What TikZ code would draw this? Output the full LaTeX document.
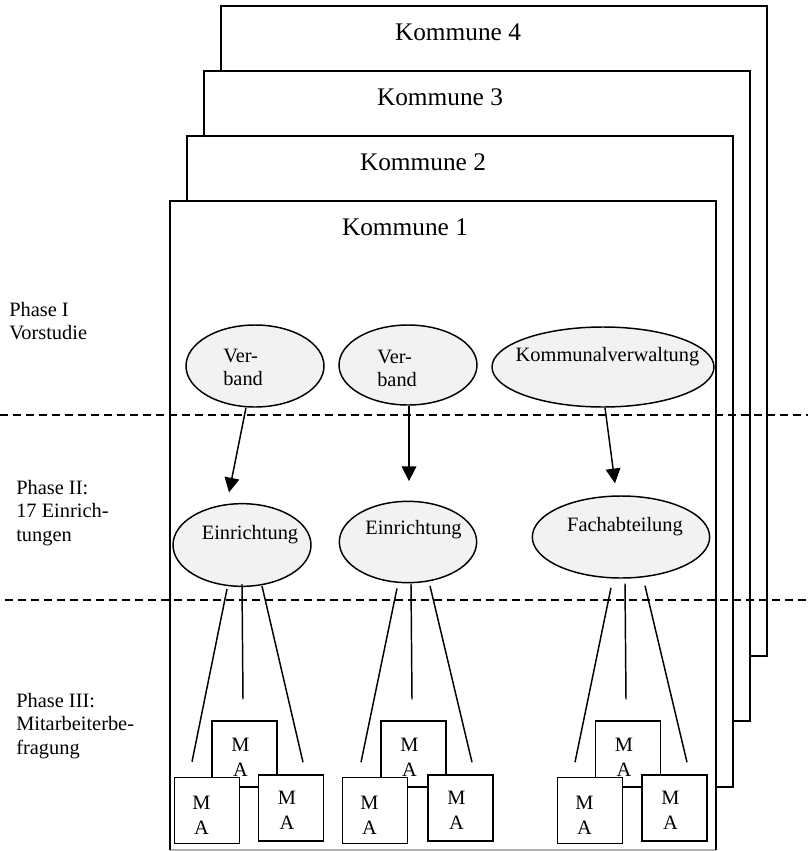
\documentclass[tikz,border=0pt]{standalone}
\usepackage{fontspec}
\setmainfont{Liberation Serif}
\usetikzlibrary{shapes.geometric,arrows.meta,calc}
\begin{document}
\begin{tikzpicture}[x=0.75pt,y=-0.75pt,
  komm/.style={draw=black,line width=1.5pt,fill=white},
  elli/.style={ellipse,draw=black,line width=1.1pt,fill=black!5,inner sep=0pt},
  mabox/.style={rectangle,draw=black,line width=1.1pt,fill=white,inner sep=0pt,minimum width=49pt,minimum height=49.5pt},
  txt/.style={font=\fontsize{15.3}{17.5}\selectfont,inner sep=0pt,align=left},
  ktxt/.style={font=\fontsize{19}{22}\selectfont,inner sep=0pt},
  matxt/.style={font=\fontsize{15.3}{18.75}\selectfont,inner sep=0pt,align=center},
  arr/.style={line width=1.1pt,-{Triangle[length=11pt,width=11pt]}},
  conn/.style={line width=1.1pt},
  phaseline/.style={line width=1.5pt,dash pattern=on 6pt off 3.75pt}
]
\fill[white] (0,0) rectangle (808,851);
\useasboundingbox (0,0) rectangle (808,851);
% Kommune boxes
\draw[komm] (221,6) rectangle (767,656);
\node[ktxt] (k4) at (458,32) {Kommune 4};
\draw[komm] (204,71) rectangle (750,721);
\node[ktxt] (k3) at (440,97) {Kommune 3};
\draw[komm] (187,136) rectangle (733,786.5);
\node[ktxt] (k2) at (423,162) {Kommune 2};
\fill[white] (170,201) rectangle (716,849.5);
\draw[black!30,line width=1.5pt] (170,849.5) -- (716,849.5);
\draw[line width=1.5pt] (170,849.5) -- (170,201) -- (716,201) -- (716,849.5);
\node[ktxt] (k1) at (405,227) {Kommune 1};
% phase labels
\node[txt,anchor=west] (p1) at (9,321) {Phase I\\Vorstudie};
\node[txt,anchor=west] (p2) at (16,513) {Phase II:\\17 Einrich-\\tungen};
\node[txt,anchor=west] (p3) at (16,726) {Phase III:\\Mitarbeiterbe-\\fragung};
% phase I ellipses
\node[elli,minimum width=103.5pt,minimum height=61.5pt] (v1) at (255,366) {};
\node[txt,anchor=west] (v1t) at (223,367.5) {Ver-\\band};
\node[elli,minimum width=103.5pt,minimum height=60pt] (v2) at (408,365) {};
\node[txt,anchor=west] (v2t) at (377,368.5) {Ver-\\band};
\node[elli,minimum width=166.5pt,minimum height=60pt] (kv) at (603,367) {};
\node[txt] (kvt) at (607.5,357) {Kommunalverwaltung};
% phase II ellipses
\node[elli,minimum width=103.5pt,minimum height=62pt] (e1) at (242,545) {};
\node[txt] (e1t) at (250,535) {Einrichtung};
\node[elli,minimum width=103pt,minimum height=61pt] (e2) at (408,542) {};
\node[txt] (e2t) at (413.5,530) {Einrichtung};
\node[elli,minimum width=133pt,minimum height=61.5pt] (fa) at (621,537) {};
\node[txt] (fat) at (625,527) {Fachabteilung};
% arrows
\draw[arr] ($(v1.south)+(-9,0)$) -- ($(e1.north)+(-13,-10.5)$);
\draw[arr] ($(v2.south)+(1,0)$) -- ($(e2.north)+(1,-19.5)$);
\draw[arr] ($(kv.south)+(2,0)$) -- ($(fa.north)+(-6,-12)$);
% MA boxes group 1
\node[mabox] (ma1b) at (244.5,754) {};
\node[matxt] (ma1bt) at ($(ma1b)+(-4,3.5)$) {M\\A};
\node[mabox] (ma1l) at (207,810.5) {};
\node[matxt] (ma1lt) at ($(ma1l)+(-5.5,4.5)$) {M\\A};
\node[mabox] (ma1r) at (291,808) {};
\node[matxt] (ma1rt) at ($(ma1r)+(-4,2.5)$) {M\\A};
% group 2
\node[mabox] (ma2b) at (413.5,754) {};
\node[matxt] (ma2bt) at ($(ma2b)+(-4,3.5)$) {M\\A};
\node[mabox] (ma2l) at (375,810.5) {};
\node[matxt] (ma2lt) at ($(ma2l)+(-5.5,4.5)$) {M\\A};
\node[mabox] (ma2r) at (460.5,808) {};
\node[matxt] (ma2rt) at ($(ma2r)+(-4,2.5)$) {M\\A};
% group 3
\node[mabox] (ma3b) at (628,754) {};
\node[matxt] (ma3bt) at ($(ma3b)+(-4,3.5)$) {M\\A};
\node[mabox] (ma3l) at (590,810.5) {};
\node[matxt] (ma3lt) at ($(ma3l)+(-5.5,4.5)$) {M\\A};
\node[mabox] (ma3r) at (674.5,808) {};
\node[matxt] (ma3rt) at ($(ma3r)+(-4,2.5)$) {M\\A};
% connectors
\draw[conn] ($(e1.south)+(-15,2)$) -- ($(ma1l.north)+(-15,-15)$);
\draw[conn] ($(e1.south)+(0,-3)$) -- ($(ma1b.north)+(-1.5,-21)$);
\draw[conn] ($(e1.south)+(20,-1)$) -- ($(ma1r.north)+(12,-12)$);
\draw[conn] ($(e2.south)+(-11,5)$) -- ($(ma2l.north)+(-14,-14.5)$);
\draw[conn] ($(e2.south)+(3,0.5)$) -- ($(ma2b.north)+(-1.5,-21)$);
\draw[conn] ($(e2.south)+(22,2.5)$) -- ($(ma2r.north)+(11.5,-12)$);
\draw[conn] ($(fa.south)+(-10,9)$) -- ($(ma3l.north)+(-15,-14.5)$);
\draw[conn] ($(fa.south)+(4,5)$) -- ($(ma3b.north)+(-2,-21)$);
\draw[conn] ($(fa.south)+(24,7)$) -- ($(ma3r.north)+(12.5,-12)$);
% dashed phase separators
\coordinate (d1a) at (0,415);
\coordinate (d1b) at (808,415);
\coordinate (d2a) at (5,600);
\coordinate (d2b) at (808,600);
\draw[phaseline] (d1a) -- (d1b);
\draw[phaseline] (d2a) -- (d2b);
\end{tikzpicture}
\end{document}
